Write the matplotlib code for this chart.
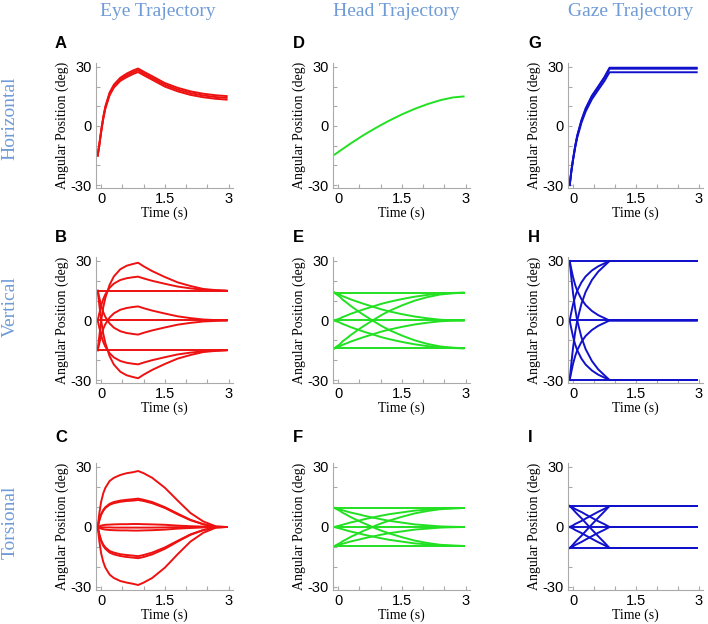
import matplotlib.pyplot as plt
from matplotlib.ticker import MultipleLocator

# time samples (s) shared by every trace
T = [-0.08, -0.04, 0.0, 0.05, 0.1, 0.2, 0.3, 0.45, 0.6, 0.75, 0.87,
     1.0, 1.2, 1.5, 1.8, 2.1, 2.4, 2.7, 2.95]

# A - eye, horizontal
eye_horizontal = [
    [-15, -9, -2.5, 4.5, 10, 17, 21, 24.5, 26.6, 28.2, 29.2, 27.6, 25.3, 21.8, 19.4, 17.6, 16.4, 15.6, 15.2],
    [-15, -9.2, -2.9, 4.0, 9.4, 16.3, 20.3, 23.7, 25.7, 27.3, 28.3, 26.7, 24.4, 20.9, 18.5, 16.7, 15.5, 14.7, 14.3],
    [-15, -9.4, -3.3, 3.5, 8.8, 15.6, 19.5, 22.9, 24.8, 26.4, 27.4, 25.8, 23.5, 20.0, 17.6, 15.8, 14.6, 13.8, 13.4],
]
# B - eye, vertical
eye_vertical = [
    [-15, -7.5, -0.3, 6.6, 11.4, 18.0, 22.2, 25.8, 27.6, 28.5, 29.1, 27.3, 24.9, 21.9, 19.2, 17.4, 15.9, 15.3, 15],
    [0, 3.8, 7.4, 10.8, 13.2, 16.5, 18.6, 20.4, 21.3, 21.8, 22.1, 21.2, 20.0, 18.5, 17.1, 16.2, 15.5, 15.2, 15],
    [15, 15, 15, 15, 15, 15, 15, 15, 15, 15, 15, 15, 15, 15, 15, 15, 15, 15, 15],
    [-15, -11.3, -7.7, -4.2, -1.8, 1.5, 3.6, 5.4, 6.3, 6.8, 7.1, 6.2, 5.0, 3.5, 2.1, 1.2, 0.5, 0.2, 0],
    [0, 0, 0, 0, 0, 0, 0, 0, 0, 0, 0, 0, 0, 0, 0, 0, 0, 0, 0],
    [15, 11.3, 7.7, 4.2, 1.8, -1.5, -3.6, -5.4, -6.3, -6.8, -7.1, -6.2, -5.0, -3.5, -2.1, -1.2, -0.5, -0.2, 0],
    [15, 7.5, 0.3, -6.6, -11.4, -18.0, -22.2, -25.8, -27.6, -28.5, -29.1, -27.3, -24.9, -21.9, -19.2, -17.4, -15.9, -15.3, -15],
    [0, -3.8, -7.4, -10.8, -13.2, -16.5, -18.6, -20.4, -21.3, -21.8, -22.1, -21.2, -20.0, -18.5, -17.1, -16.2, -15.5, -15.2, -15],
    [-15, -15, -15, -15, -15, -15, -15, -15, -15, -15, -15, -15, -15, -15, -15, -15, -15, -15, -15],
]
# C - eye, torsional
eye_torsional = [
    [0, 7, 12.6, 16.8, 19.6, 23.0, 24.6, 26.0, 26.9, 27.4, 28, 26.9, 24.6, 19.6, 13.2, 7.0, 2.8, 0.3, 0],
    [0, 3.6, 6.4, 8.5, 9.9, 11.6, 12.5, 13.2, 13.6, 13.9, 14.2, 13.6, 12.5, 9.9, 6.7, 3.6, 1.4, 0.1, 0],
    [0, 3.4, 6.1, 8.1, 9.5, 11.1, 11.9, 12.6, 13.0, 13.2, 13.5, 13.0, 11.9, 9.5, 6.3, 3.4, 1.4, 0.1, 0],
    [0, 0.4, 0.7, 0.9, 1.1, 1.2, 1.3, 1.4, 1.4, 1.5, 1.5, 1.4, 1.3, 1.1, 0.7, 0.4, 0.2, 0, 0],
    [0, -0.1, -0.1, -0.2, -0.2, -0.2, -0.3, -0.3, -0.3, -0.3, -0.3, -0.3, -0.3, -0.2, -0.1, -0.1, 0, 0, 0],
    [0, -0.5, -0.8, -1.1, -1.3, -1.5, -1.6, -1.7, -1.7, -1.8, -1.8, -1.7, -1.6, -1.3, -0.8, -0.5, -0.2, 0, 0],
    [0, -3.7, -6.6, -8.8, -10.2, -12.0, -12.8, -13.6, -14.0, -14.3, -14.6, -14.0, -12.8, -10.2, -6.9, -3.7, -1.5, -0.1, 0],
    [0, -3.9, -7.0, -9.4, -10.9, -12.8, -13.7, -14.5, -15.0, -15.3, -15.6, -15.0, -13.7, -10.9, -7.3, -3.9, -1.6, -0.2, 0],
    [0, -7.3, -13.1, -17.4, -20.3, -23.8, -25.5, -27.0, -27.8, -28.4, -29, -27.8, -25.5, -20.3, -13.6, -7.3, -2.9, -0.3, 0],
]
# D - head, horizontal
head_horizontal = [
    [-14.5, -13.9, -13.3, -12.5, -11.8, -10.3, -8.8, -6.7, -4.6, -2.7, -1.2, 0.4, 2.7, 5.9, 8.7, 11.1, 13.1, 14.5, 15.0],
]
# E - head, vertical
head_vertical = [
    [14, 13.2, 12.6, 11.8, 10.6, 9.0, 7.3, 5.0, 2.8, 0.8, -0.8, -2.5, -4.8, -7.6, -10.0, -11.8, -13.1, -13.7, -14],
    [-14, -13.2, -12.6, -11.8, -10.6, -9.0, -7.3, -5.0, -2.8, -0.8, 0.8, 2.5, 4.8, 7.6, 10.0, 11.8, 13.1, 13.7, 14],
    [14, 13.6, 13.3, 12.9, 12.3, 11.5, 10.6, 9.5, 8.4, 7.4, 6.6, 5.7, 4.6, 3.2, 2.0, 1.1, 0.4, 0.1, 0],
    [0, 0.4, 0.7, 1.1, 1.7, 2.5, 3.4, 4.5, 5.6, 6.6, 7.4, 8.3, 9.4, 10.8, 12.0, 12.9, 13.6, 13.9, 14],
    [0, -0.4, -0.7, -1.1, -1.7, -2.5, -3.4, -4.5, -5.6, -6.6, -7.4, -8.3, -9.4, -10.8, -12.0, -12.9, -13.6, -13.9, -14],
    [-14, -13.6, -13.3, -12.9, -12.3, -11.5, -10.6, -9.5, -8.4, -7.4, -6.6, -5.7, -4.6, -3.2, -2.0, -1.1, -0.4, -0.1, 0],
    [14, 14, 14, 14, 14, 14, 14, 14, 14, 14, 14, 14, 14, 14, 14, 14, 14, 14, 14],
    [0, 0, 0, 0, 0, 0, 0, 0, 0, 0, 0, 0, 0, 0, 0, 0, 0, 0, 0],
    [-14, -14, -14, -14, -14, -14, -14, -14, -14, -14, -14, -14, -14, -14, -14, -14, -14, -14, -14],
]
# F - head, torsional
head_torsional = [
    [9.5, 9.0, 8.5, 8.0, 7.2, 6.1, 4.9, 3.4, 1.9, 0.6, -0.6, -1.7, -3.2, -5.1, -6.8, -8.0, -8.9, -9.3, -9.5],
    [-9.5, -9.0, -8.5, -8.0, -7.2, -6.1, -4.9, -3.4, -1.9, -0.6, 0.6, 1.7, 3.2, 5.1, 6.8, 8.0, 8.9, 9.3, 9.5],
    [9.5, 9.2, 9.0, 8.7, 8.4, 7.8, 7.2, 6.5, 5.7, 5.0, 4.5, 3.9, 3.1, 2.2, 1.3, 0.8, 0.3, 0.1, 0],
    [0, 0.3, 0.5, 0.8, 1.1, 1.7, 2.3, 3.0, 3.8, 4.5, 5.0, 5.6, 6.4, 7.3, 8.2, 8.7, 9.2, 9.4, 9.5],
    [0, -0.3, -0.5, -0.8, -1.1, -1.7, -2.3, -3.0, -3.8, -4.5, -5.0, -5.6, -6.4, -7.3, -8.2, -8.7, -9.2, -9.4, -9.5],
    [-9.5, -9.2, -9.0, -8.7, -8.4, -7.8, -7.2, -6.5, -5.7, -5.0, -4.5, -3.9, -3.1, -2.2, -1.3, -0.8, -0.3, -0.1, 0],
    [9.5, 9.5, 9.5, 9.5, 9.5, 9.5, 9.5, 9.5, 9.5, 9.5, 9.5, 9.5, 9.5, 9.5, 9.5, 9.5, 9.5, 9.5, 9.5],
    [0, 0, 0, 0, 0, 0, 0, 0, 0, 0, 0, 0, 0, 0, 0, 0, 0, 0, 0],
    [-9.5, -9.5, -9.5, -9.5, -9.5, -9.5, -9.5, -9.5, -9.5, -9.5, -9.5, -9.5, -9.5, -9.5, -9.5, -9.5, -9.5, -9.5, -9.5],
]
# G - gaze, horizontal
gaze_horizontal = [
    [-30, -22.8, -16.8, -10.3, -4.9, 2.9, 8.9, 15.4, 20.1, 24.9, 29.6, 29.6, 29.6, 29.6, 29.6, 29.6, 29.6, 29.6, 29.6],
    [-30, -22.9, -17.0, -10.5, -5.1, 2.6, 8.5, 15.0, 19.7, 24.5, 29.1, 29.1, 29.1, 29.1, 29.1, 29.1, 29.1, 29.1, 29.1],
    [-30, -23.1, -17.4, -11.1, -5.9, 1.6, 7.3, 13.6, 18.3, 22.9, 27.3, 27.3, 27.3, 27.3, 27.3, 27.3, 27.3, 27.3, 27.3],
]
# H - gaze, vertical
gaze_vertical = [
    [30, 21.6, 13.8, 6, 0, -8.4, -14.4, -20.4, -24.6, -27.6, -30, -30, -30, -30, -30, -30, -30, -30, -30],
    [-30, -21.6, -13.8, -6, 0, 8.4, 14.4, 20.4, 24.6, 27.6, 30, 30, 30, 30, 30, 30, 30, 30, 30],
    [30, 25.8, 21.9, 18, 15, 10.8, 7.8, 4.8, 2.7, 1.2, 0, 0, 0, 0, 0, 0, 0, 0, 0],
    [0, 4.2, 8.1, 12, 15, 19.2, 22.2, 25.2, 27.3, 28.8, 30, 30, 30, 30, 30, 30, 30, 30, 30],
    [0, -4.2, -8.1, -12, -15, -19.2, -22.2, -25.2, -27.3, -28.8, -30, -30, -30, -30, -30, -30, -30, -30, -30],
    [-30, -25.8, -21.9, -18, -15, -10.8, -7.8, -4.8, -2.7, -1.2, 0, 0, 0, 0, 0, 0, 0, 0, 0],
    [30, 30, 30, 30, 30, 30, 30, 30, 30, 30, 30, 30, 30, 30, 30, 30, 30, 30, 30],
    [0, 0, 0, 0, 0, 0, 0, 0, 0, 0, 0, 0, 0, 0, 0, 0, 0, 0, 0],
    [-30, -30, -30, -30, -30, -30, -30, -30, -30, -30, -30, -30, -30, -30, -30, -30, -30, -30, -30],
]
# I - gaze, torsional
gaze_torsional = [
    [10.5, 9.7, 8.8, 7.6, 6.5, 4.4, 2.1, -1.3, -4.6, -7.8, -10.5, -10.5, -10.5, -10.5, -10.5, -10.5, -10.5, -10.5, -10.5],
    [-10.5, -9.7, -8.8, -7.6, -6.5, -4.4, -2.1, 1.3, 4.6, 7.8, 10.5, 10.5, 10.5, 10.5, 10.5, 10.5, 10.5, 10.5, 10.5],
    [10.5, 10.1, 9.7, 9.0, 8.5, 7.5, 6.3, 4.6, 2.9, 1.4, 0, 0, 0, 0, 0, 0, 0, 0, 0],
    [0, 0.4, 0.8, 1.5, 2.0, 3.0, 4.2, 5.9, 7.6, 9.1, 10.5, 10.5, 10.5, 10.5, 10.5, 10.5, 10.5, 10.5, 10.5],
    [0, -0.4, -0.8, -1.5, -2.0, -3.0, -4.2, -5.9, -7.6, -9.1, -10.5, -10.5, -10.5, -10.5, -10.5, -10.5, -10.5, -10.5, -10.5],
    [-10.5, -10.1, -9.7, -9.0, -8.5, -7.5, -6.3, -4.6, -2.9, -1.4, 0, 0, 0, 0, 0, 0, 0, 0, 0],
    [10.5, 10.5, 10.5, 10.5, 10.5, 10.5, 10.5, 10.5, 10.5, 10.5, 10.5, 10.5, 10.5, 10.5, 10.5, 10.5, 10.5, 10.5, 10.5],
    [0, 0, 0, 0, 0, 0, 0, 0, 0, 0, 0, 0, 0, 0, 0, 0, 0, 0, 0],
    [-10.5, -10.5, -10.5, -10.5, -10.5, -10.5, -10.5, -10.5, -10.5, -10.5, -10.5, -10.5, -10.5, -10.5, -10.5, -10.5, -10.5, -10.5, -10.5],
]

column_titles = ['Eye Trajectory', 'Head Trajectory', 'Gaze Trajectory']
row_titles = ['Horizontal', 'Vertical', 'Torsional']
letters = [['A', 'D', 'G'], ['B', 'E', 'H'], ['C', 'F', 'I']]
grid = [[eye_horizontal, head_horizontal, gaze_horizontal],
        [eye_vertical, head_vertical, gaze_vertical],
        [eye_torsional, head_torsional, gaze_torsional]]
colors = ['#ee1111', '#22e022', '#1111cc']

W, H = 708, 624
col_px = [(96, 233), (333, 470), (568, 703)]
row_px = [(63, 188), (257, 383), (463, 590)]
title_x = [158, 396, 631]
row_label_y = [118, 307, 522]
letter_x = [55, 293, 528]
letter_y = [43, 238, 438]

title_blue = '#6f9bd6'
serif = 'Liberation Serif'
sans = 'Liberation Sans'

fig = plt.figure(figsize=(7.08, 6.24), dpi=100)

for r in range(3):
    for c in range(3):
        x0, x1 = col_px[c]
        y0, y1 = row_px[r]
        ax = fig.add_axes([x0 / W, 1 - y1 / H, (x1 - x0) / W, (y1 - y0) / H])
        for trace in grid[r][c]:
            ax.plot(T, trace, color=colors[c], lw=1.4)
        ax.set_xlim(-0.12, 3.1)
        ax.set_ylim(-31.5, 32)
        ax.set_xticks([0, 1.5, 3])
        ax.set_xticklabels(['0', '1.5', '3'], family=sans, fontsize=10.5)
        ax.set_yticks([-30, 0, 30])
        ax.set_yticklabels(['-30', '0', '30'], family=sans, fontsize=10.5)
        ax.xaxis.set_minor_locator(MultipleLocator(0.5))
        ax.yaxis.set_minor_locator(MultipleLocator(10))
        ax.tick_params(which='both', direction='in', length=3, color='#aaaaaa', width=0.8)
        ax.tick_params(axis='x', pad=3)
        ax.tick_params(axis='y', pad=3)
        for s in ['top', 'right']:
            ax.spines[s].set_visible(False)
        for s in ['left', 'bottom']:
            ax.spines[s].set_color('#aaaaaa')
            ax.spines[s].set_linewidth(0.8)
        ax.set_xlabel('Time (s)', family=serif, fontsize=10, labelpad=0.5)
        ax.set_ylabel('Angular Position (deg)', family=serif, fontsize=10, labelpad=1)
        fig.text(letter_x[c] / W, 1 - letter_y[r] / H, letters[r][c],
                 ha='left', va='center', family=sans, fontweight='bold', fontsize=12)

for c in range(3):
    fig.text(title_x[c] / W, 1 - 12 / H, column_titles[c], ha='center', va='center',
             family=serif, fontsize=14, color=title_blue)
for r in range(3):
    fig.text(10 / W, 1 - row_label_y[r] / H, row_titles[r], ha='center', va='center',
             rotation=90, family=serif, fontsize=14, color=title_blue)

fig.savefig('out.png', dpi=100)
